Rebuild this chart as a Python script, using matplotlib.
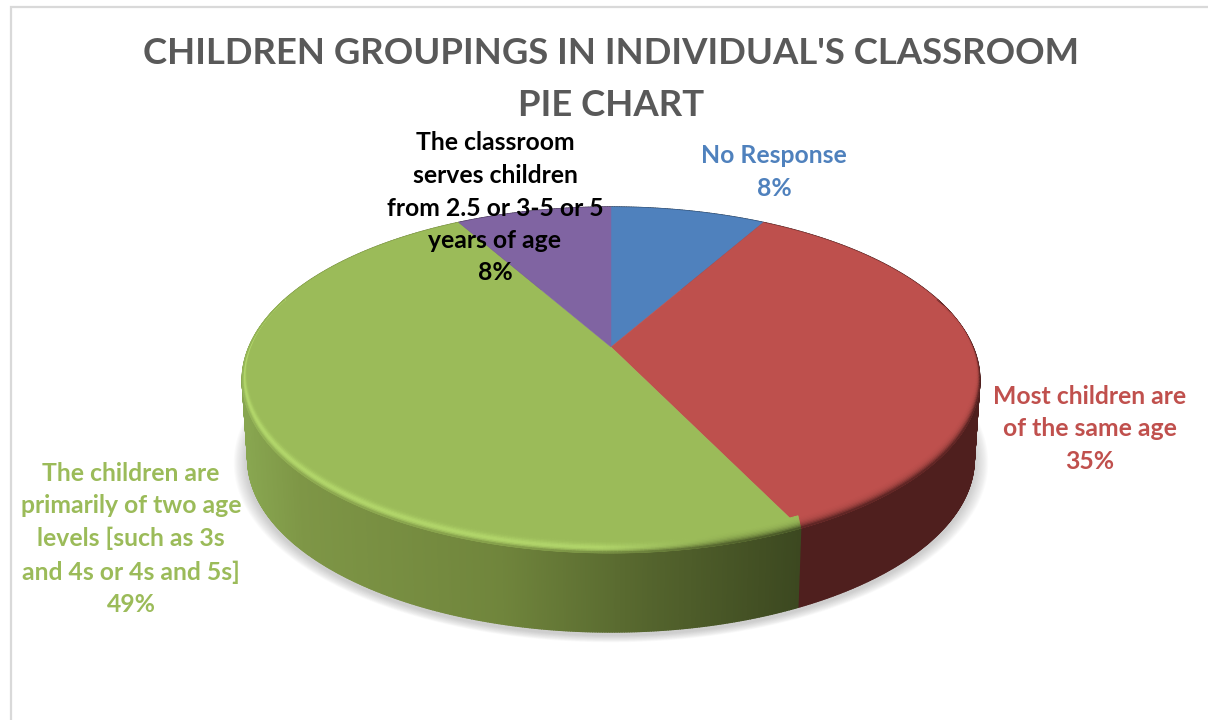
import numpy as np
import matplotlib
matplotlib.use("Agg")
import matplotlib.pyplot as plt
from matplotlib.collections import PolyCollection
from matplotlib.colors import to_rgb

title = "CHILDREN GROUPINGS IN INDIVIDUAL'S CLASSROOM\nPIE CHART"
categories = ["No Response", "Most children are\nof the same age",
              "The children are\nprimarily of two age\nlevels [such as 3s\nand 4s or 4s and 5s]",
              "The classroom\nserves children\nfrom 2.5 or 3-5 or 5\nyears of age"]
counts = [4, 17, 24, 4]
percents = ["8%", "35%", "49%", "8%"]
colors = ["#4f81bd", "#be504d", "#9bbb59", "#8064a2"]
label_colors = ["#4f81bd", "#c0504d", "#9bbb59", "#000000"]
label_pos = [(774, 172), (1090, 429), (131, 539), (495, 208)]

FONT = "Lato"
W, H = 1208, 720
CX, K, A, B, C = 611.0, 362.0, -100.5, 347.0, 0.1908


def top_xy(theta, r=1.0):
    u, v = r * np.sin(theta), r * np.cos(theta)
    w = 1 + C * v
    return CX + K * u / w, (B + A * v) / w


def bottom_xy(theta, r=1.0):
    x, y = top_xy(theta, r)
    return CX + (x - CX) * 0.985, y + 79


def rim_xy(theta, f):
    """Point on the bevel band: f=1 is the outer edge, f=0 the inner edge."""
    v = np.cos(theta)
    shrink = 0.012 * np.clip((0.5 - v) / 0.5, 0, 1)
    lift = 10.0 * np.clip((0.3 - v) / 0.6, 0, 1)
    x, y = top_xy(theta, 1 - shrink * (1 - f))
    return x, y - lift * (1 - f)


fig = plt.figure(figsize=(W / 100, H / 100), dpi=100, facecolor="white")
ax = fig.add_axes([0, 0, 1, 1])
ax.set_xlim(0, W)
ax.set_ylim(H, 0)
ax.axis("off")

# chart frame
ax.plot([10.5, 10.5, W], [H, 6.5, 6.5], color="#d9d9d9", lw=1.6, solid_joinstyle="miter", zorder=1)

fractions = np.array(counts, float) / sum(counts)
edges = np.concatenate([[0], np.cumsum(fractions)]) * 2 * np.pi

# soft shadow
t = np.linspace(0, 2 * np.pi, 361)
bx, by = bottom_xy(t)
for k in range(12):
    g = 1 + (12 - k) * 0.0032
    poly = np.c_[CX + (bx - CX) * g, by.mean() + (by - by.mean()) * g + 3]
    ax.fill(poly[:, 0], poly[:, 1], color="#808080", alpha=0.035, lw=0, zorder=2)


# side wall
def side_color(i, x):
    if i == 2:
        stops = [244, 300, 500, 650, 800]
        rs = [136, 126, 112, 84, 60]
        gs = [166, 150, 133, 100, 72]
        bs = [80, 70, 60, 45, 32]
        return (np.interp(x, stops, rs) / 255, np.interp(x, stops, gs) / 255, np.interp(x, stops, bs) / 255)
    if i == 1:
        return (0x4f / 255, 0x1f / 255, 0x1e / 255)
    return tuple(0.5 * c for c in to_rgb(colors[i]))


quads, qcols = [], []
for i in range(len(counts)):
    ts = np.linspace(edges[i], edges[i + 1], max(int((edges[i + 1] - edges[i]) * 180), 4))
    for a, b in zip(ts[:-1], ts[1:]):
        xa, ya = top_xy(a)
        xb, yb = top_xy(b)
        xc, yc = bottom_xy(b)
        xd, yd = bottom_xy(a)
        quads.append([(xa, ya), (xb, yb), (xc, yc), (xd, yd)])
        qcols.append(side_color(i, (xa + xb) / 2))
ax.add_collection(PolyCollection(quads, facecolors=qcols, edgecolors=qcols, linewidths=1.0, zorder=3))

# top face wedges
for i in range(len(counts)):
    ts = np.linspace(edges[i], edges[i + 1], 200)
    x, y = top_xy(ts)
    ax.fill(np.r_[CX, x], np.r_[B, y], color=colors[i], lw=0.3, zorder=4)

# rim bevel
fs = np.linspace(0, 1, 11)
quads, qcols = [], []
for i in range(len(counts)):
    base = np.array(to_rgb(colors[i]))
    ts = np.linspace(edges[i], edges[i + 1], max(int((edges[i + 1] - edges[i]) * 120), 4))
    for a, b in zip(ts[:-1], ts[1:]):
        m = (a + b) / 2
        if np.cos(m) >= 0.3:
            continue
        xm = top_xy(m)[0]
        side = np.array(side_color(i, xm))
        hl = np.interp(xm, [244, 600, 730], [1, 1, 0]) if i == 2 else 0.0
        for f0, f1 in zip(fs[:-1], fs[1:]):
            f = 0.5 * (f0 + f1)
            col = base * (1 - f ** 3) + side * f ** 3
            bump = np.exp(-((f - 0.62) / 0.3) ** 2) * hl
            col = col * (1 - 0.75 * bump) + np.array([0.74, 0.89, 0.45]) * 0.75 * bump
            quads.append([rim_xy(a, f0), rim_xy(b, f0), rim_xy(b, f1), rim_xy(a, f1)])
            qcols.append(tuple(col))
ax.add_collection(PolyCollection(quads, facecolors=qcols, edgecolors=qcols, linewidths=0.6, zorder=5))

ax.text(611, 79.5, title, ha="center", va="center", family=FONT, weight="bold",
        fontsize=26.3, color="#595959", linespacing=1.72, zorder=6)

for cat, pct, col, (lx, ly) in zip(categories, percents, label_colors, label_pos):
    ax.text(lx, ly, cat + "\n" + pct, ha="center", va="center", family=FONT, weight="bold",
            fontsize=17.8, color=col, linespacing=1.5, zorder=6)

fig.savefig("out.png", dpi=100)
